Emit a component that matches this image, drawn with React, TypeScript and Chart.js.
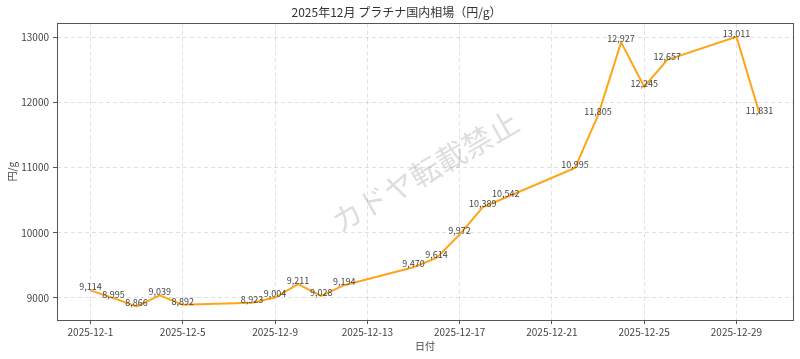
import React, { useEffect, useRef } from "react";
import { Chart, registerables } from "chart.js";

Chart.register(...registerables);

const TITLE = "2025年12月 プラチナ国内相場（円/g）";
const X_TITLE = "日付";
const Y_TITLE = "円/g";
const WATERMARK = "カドヤ転載禁止";
const DAYS = [1, 2, 3, 4, 5, 8, 9, 10, 11, 12, 15, 16, 17, 18, 19, 22, 23, 24, 25, 26, 29, 30];
const PRICES = [9114, 8995, 8866, 9039, 8892, 8923, 9004, 9211, 9028, 9194, 9470, 9614, 9972, 10389, 10542, 10995, 11805, 12927, 12245, 12657, 13011, 11831];
const X_TICKS = [1, 5, 9, 13, 17, 21, 25, 29];
const Y_TICKS = [9000, 10000, 11000, 12000, 13000];

const FONT = "'Noto Sans CJK JP', 'Noto Sans', sans-serif";

export default function App() {
  const ref = useRef<HTMLCanvasElement | null>(null);

  useEffect(() => {
    if (!ref.current) return;
    const xSpan = DAYS[DAYS.length - 1] - DAYS[0];
    const yMinD = Math.min(...PRICES);
    const yMaxD = Math.max(...PRICES);
    const ySpan = yMaxD - yMinD;

    const framePlugin = {
      id: "frame",
      beforeDatasetsDraw(chart: any) {
        const { ctx, chartArea: a } = chart;
        ctx.save();
        ctx.translate((a.left + a.right) / 2, (a.top + a.bottom) / 2);
        ctx.rotate(-Math.PI / 6);
        ctx.font = `30px ${FONT}`;
        ctx.fillStyle = "rgba(128,128,128,0.27)";
        ctx.textAlign = "center";
        ctx.textBaseline = "middle";
        ctx.fillText(WATERMARK, 0, 0);
        ctx.restore();
      },
      afterDatasetsDraw(chart: any) {
        const { ctx, chartArea: a } = chart;
        const meta = chart.getDatasetMeta(0);
        ctx.save();
        ctx.font = `9px ${FONT}`;
        ctx.fillStyle = "#444";
        ctx.textAlign = "center";
        ctx.textBaseline = "bottom";
        meta.data.forEach((p: any, i: number) => {
          ctx.fillText(PRICES[i].toLocaleString("en-US"), p.x, p.y + 1);
        });
        ctx.strokeStyle = "#555";
        ctx.lineWidth = 1;
        ctx.strokeRect(Math.round(a.left) + 0.5, Math.round(a.top) + 0.5, Math.round(a.right - a.left), Math.round(a.bottom - a.top));
        ctx.restore();
      },
    };

    const chart = new Chart(ref.current, {
      type: "line",
      data: {
        datasets: [
          {
            data: DAYS.map((d, i) => ({ x: d, y: PRICES[i] })),
            borderColor: "#FFA51A",
            borderWidth: 2,
            pointRadius: 0,
            tension: 0,
            fill: false,
          },
        ],
      },
      options: {
        animation: false,
        responsive: false,
        maintainAspectRatio: false,
        layout: { padding: { left: 0, right: 7, top: 0, bottom: 0 } },
        plugins: {
          legend: { display: false },
          tooltip: { enabled: false },
          title: {
            display: true,
            text: TITLE,
            color: "#333",
            font: { family: FONT, size: 12, weight: "normal" },
            padding: { top: 5, bottom: 4 },
          },
        },
        scales: {
          x: {
            type: "linear",
            min: DAYS[0] - xSpan * 0.05,
            max: DAYS[DAYS.length - 1] + xSpan * 0.05,
            afterBuildTicks: (s: any) => {
              s.ticks = X_TICKS.map((v) => ({ value: v }));
            },
            afterFit: (s: any) => {
              s.height = 39;
            },
            ticks: {
              autoSkip: false,
              maxRotation: 0,
              padding: 2,
              color: "#444",
              font: { family: FONT, size: 10 },
              callback: (v: any) => `2025-12-${v}`,
            },
            grid: {
              color: "rgba(0,0,0,0.12)",
              tickColor: "#555",
              tickLength: 4,
            },
            border: { display: false, dash: [4, 3] },
            title: {
              display: true,
              text: X_TITLE,
              color: "#444",
              font: { family: FONT, size: 10 },
              padding: { top: 0, bottom: 7 },
            },
          },
          y: {
            type: "linear",
            min: yMinD - ySpan * 0.05,
            max: yMaxD + ySpan * 0.05,
            afterBuildTicks: (s: any) => {
              s.ticks = Y_TICKS.map((v) => ({ value: v }));
            },
            afterFit: (s: any) => {
              s.width = 57;
            },
            ticks: {
              padding: 4,
              color: "#444",
              font: { family: FONT, size: 10 },
              callback: (v: any) => String(v),
            },
            grid: {
              color: "rgba(0,0,0,0.12)",
              tickColor: "#555",
              tickLength: 4,
            },
            border: { display: false, dash: [4, 3] },
            title: {
              display: true,
              text: Y_TITLE,
              color: "#444",
              font: { family: FONT, size: 10 },
              padding: { top: 6, bottom: 0 },
            },
          },
        },
      },
      plugins: [framePlugin],
    } as any);
    return () => chart.destroy();
  }, []);

  return (
    <div style={{ position: "fixed", left: 0, top: 0, width: 800, height: 359, background: "#fff" }}>
      <canvas ref={ref} width={800} height={359} style={{ width: 800, height: 359 }} />
    </div>
  );
}
